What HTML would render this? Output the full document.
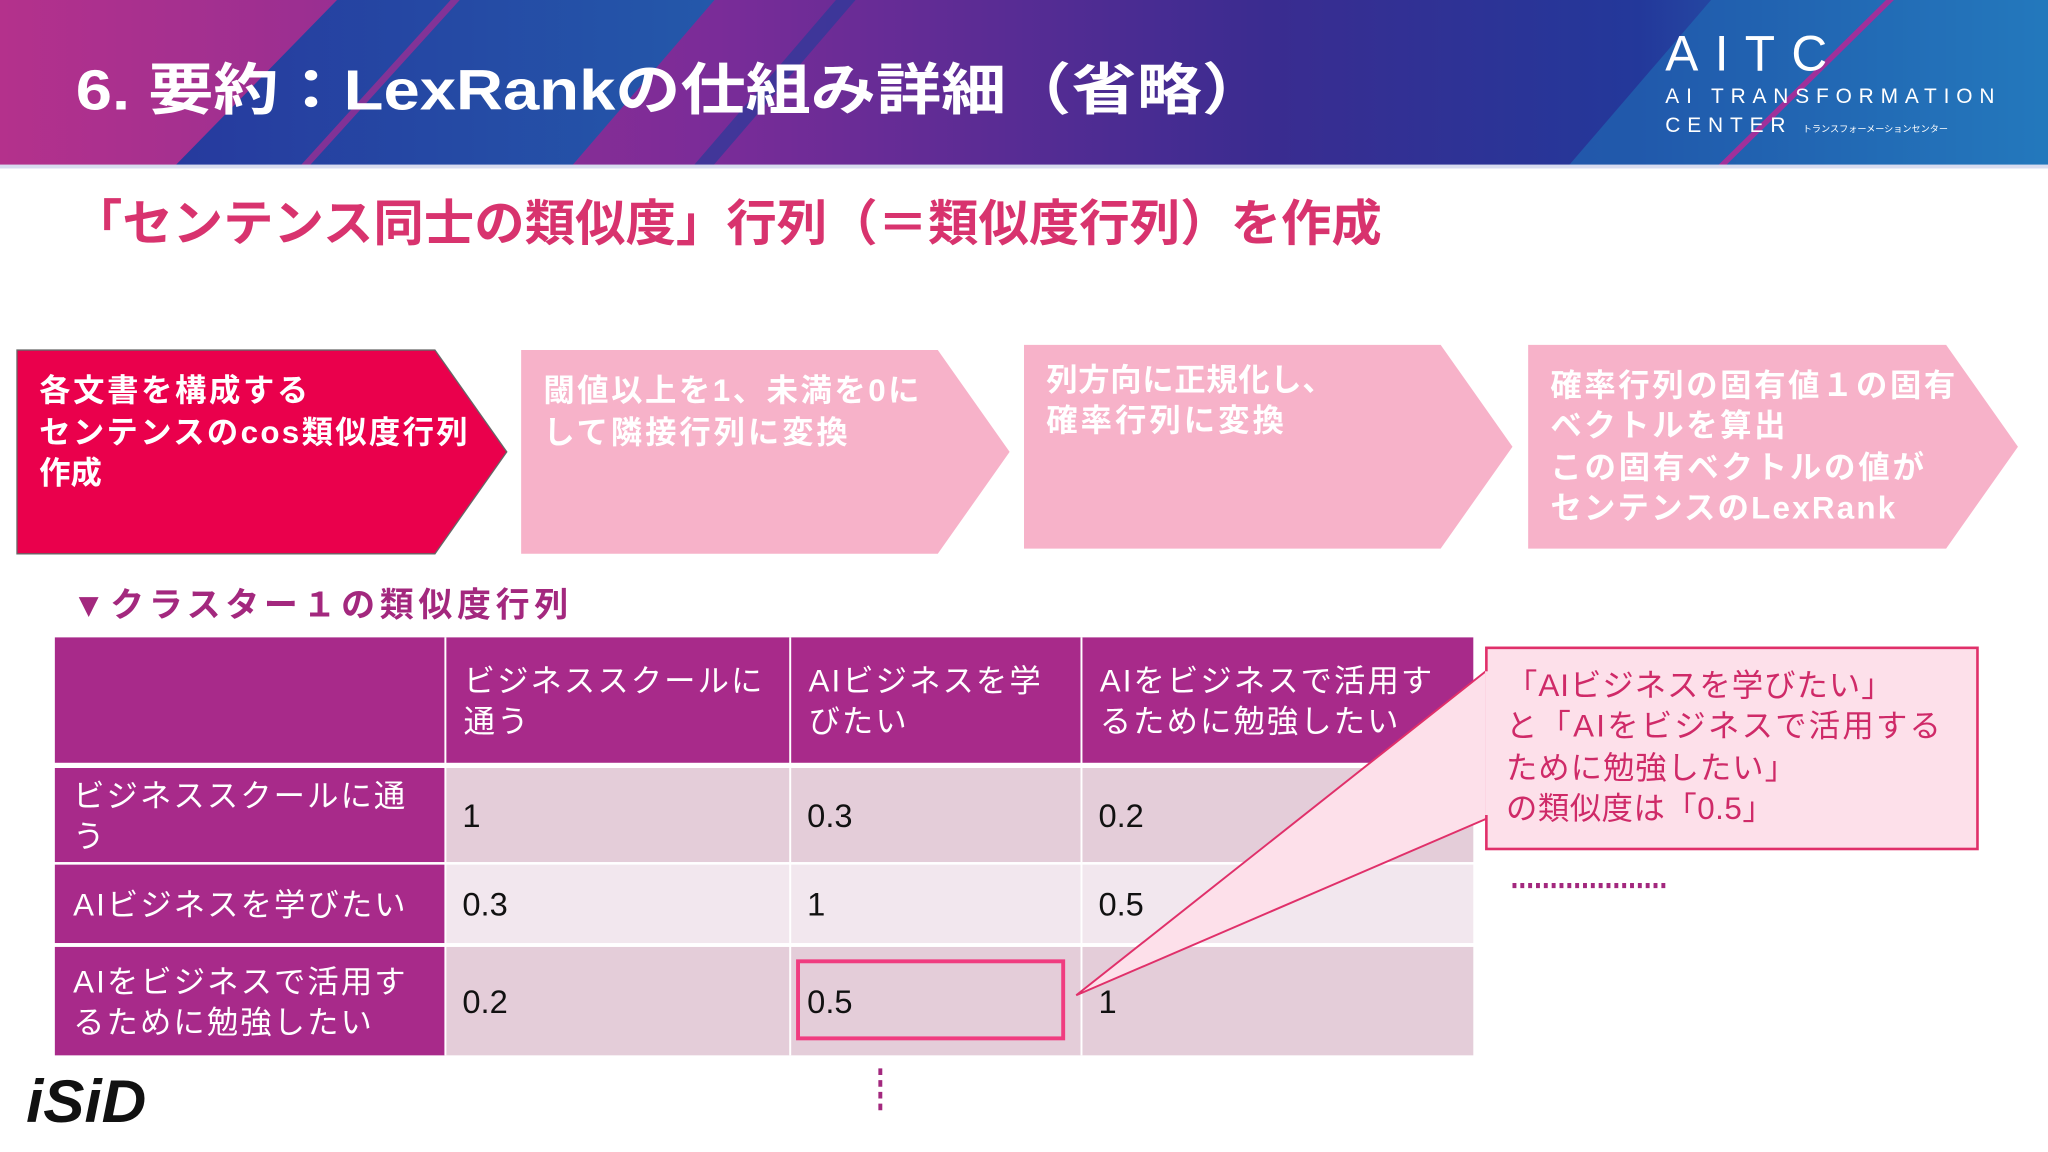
<!DOCTYPE html>
<html><head><meta charset="utf-8"><style>
html,body{margin:0;padding:0;background:#fff;}
#wrap{width:2048px;height:1152px;overflow:hidden;position:relative;}
svg{display:block;}
text{font-family:"Liberation Sans","Noto Sans CJK JP",sans-serif;}
</style></head><body>
<div id="wrap">
<svg id="s" width="2048" height="1152" viewBox="0 0 1568 882">
<defs>
<linearGradient id="hg" x1="0" y1="0" x2="1" y2="0">
<stop offset="0" stop-color="#b4318c"/><stop offset="0.35" stop-color="#7a2c98"/>
<stop offset="0.62" stop-color="#3a2c90"/><stop offset="0.8" stop-color="#23389a"/>
<stop offset="1" stop-color="#2a86c4"/></linearGradient>
<linearGradient id="bb" x1="0" y1="0" x2="1" y2="0">
<stop offset="0" stop-color="#263a9e"/><stop offset="1" stop-color="#2458aa"/></linearGradient>
</defs>
<g>
<rect x="0" y="0" width="1568" height="128" fill="url(#hg)"/>
<polygon points="258,0 547,0 437,128 133,128" fill="url(#bb)"/>
<polygon points="345,0 352,0 236,128 229,128" fill="#9a2e94" opacity="0.8"/>
<polygon points="640,0 655,0 545,128 530,128" fill="#2a3a9a" opacity="0.7"/>
<polygon points="1310,0 1568,0 1568,128 1200,128" fill="#2070b8" opacity="0.6"/>
<polygon points="1444,0 1450,0 1320,128 1314,128" fill="#a0309a"/>
<rect x="0" y="126" width="1568" height="3" fill="#d8dcf0"/>
</g>
<text x="58" y="84" font-size="43" font-weight="bold" fill="#fff" textLength="912" lengthAdjust="spacingAndGlyphs">6. 要約：LexRankの仕組み詳細（省略）</text>
<g fill="#fff">
<text x="1275" y="54" font-size="38" textLength="124" lengthAdjust="spacing" fill="#fff">AITC</text>
<text x="1275" y="79" font-size="16" textLength="252" lengthAdjust="spacing" fill="#fff">AI TRANSFORMATION</text>
<text x="1275" y="101" font-size="16" fill="#fff"><tspan textLength="92" lengthAdjust="spacing">CENTER</tspan><tspan font-size="7" dx="8">トランスフォーメーションセンター</tspan></text>
</g>
<text x="55" y="184" font-size="38" font-weight="bold" fill="#d8336e" textLength="1003" lengthAdjust="spacingAndGlyphs">「センテンス同士の類似度」行列（＝類似度行列）を作成</text>

<g>
<polygon points="13,268 333,268 388,346 333,424 13,424" fill="#ea004c" stroke="#666" stroke-width="1"/>
<text font-size="24" font-weight="bold" fill="#fff"><tspan x="30" y="307" textLength="206" lengthAdjust="spacing">各文書を構成する</tspan><tspan x="30" y="339" textLength="328" lengthAdjust="spacing">センテンスのcos類似度行列</tspan><tspan x="30" y="370">作成</tspan></text>
</g>
<g>
<polygon points="399,268 718,268 773,346 718,424 399,424" fill="#f7b2c9"/>
<text font-size="24" font-weight="bold" fill="#fff"><tspan x="416" y="307" textLength="288" lengthAdjust="spacing">閾値以上を1、未満を0に</tspan><tspan x="416" y="339" textLength="233" lengthAdjust="spacing">して隣接行列に変換</tspan></text>
</g>
<g>
<polygon points="784,264 1103,264 1158,342 1103,420 784,420" fill="#f7b2c9"/>
<text font-size="24" font-weight="bold" fill="#fff"><tspan x="801" y="299" textLength="220" lengthAdjust="spacing">列方向に正規化し、</tspan><tspan x="801" y="330" textLength="182" lengthAdjust="spacing">確率行列に変換</tspan></text>
</g>
<g>
<polygon points="1170,264 1490,264 1545,342 1490,420 1170,420" fill="#f7b2c9"/>
<text font-size="24" font-weight="bold" fill="#fff"><tspan x="1187" y="303" textLength="310" lengthAdjust="spacing">確率行列の固有値１の固有</tspan><tspan x="1187" y="334" textLength="180" lengthAdjust="spacing">ベクトルを算出</tspan><tspan x="1187" y="366" textLength="286" lengthAdjust="spacing">この固有ベクトルの値が</tspan><tspan x="1187" y="397" textLength="264" lengthAdjust="spacing">センテンスのLexRank</tspan></text>
</g>

<text x="55" y="472" font-size="26" font-weight="bold" fill="#a3287e" textLength="380" lengthAdjust="spacing">▼クラスター１の類似度行列</text>

<g id="tbl"></g>

<g>
<polygon points="1140,512 824,762 1140,626" fill="#fde0ea" stroke="#e0306a" stroke-width="1.5"/>
<rect x="1138" y="496" width="376" height="154" fill="#fde0ea" stroke="#e0306a" stroke-width="2"/>
<rect x="1137" y="514" width="6" height="110" fill="#fde0ea"/>
<text font-size="24" fill="#cf2a68"><tspan x="1153" y="533" textLength="296" lengthAdjust="spacing">「AIビジネスを学びたい」</tspan><tspan x="1153" y="564" textLength="333" lengthAdjust="spacing">と「AIをビジネスで活用する</tspan><tspan x="1153" y="596" textLength="222" lengthAdjust="spacing">ために勉強したい」</tspan><tspan x="1153" y="627" textLength="205" lengthAdjust="spacing">の類似度は「0.5」</tspan></text>
</g>
<line x1="1158" y1="678" x2="1278" y2="678" stroke="#a3287e" stroke-width="4" stroke-dasharray="3,3"/>
<line x1="674" y1="818" x2="674" y2="852" stroke="#a3287e" stroke-width="3" stroke-dasharray="5,4"/>
<text x="20" y="859" font-size="46" font-weight="bold" font-style="italic" fill="#111" textLength="92" lengthAdjust="spacingAndGlyphs">iSiD</text>
</svg>
</div>
<script>
const colLabels=["ビジネススクールに|通う","AIビジネスを学|びたい","AIをビジネスで活用す|るために勉強したい"];
const rowLabels=["ビジネススクールに通|う","AIビジネスを学びたい","AIをビジネスで活用す|るために勉強したい"];
const values=[["1","0.3","0.2"],["0.3","1","0.5"],["0.2","0.5","1"]];
const colX=[42,341,605,828,1128];
const rowY=[[488,584],[588,660],[662,722],[725,808]];
const rowBg=["#e4cdd9","#f2e7ee","#e4cdd9"];
const NS="http://www.w3.org/2000/svg";
const g=document.getElementById('tbl');
function mk(tag,attrs){const e=document.createElementNS(NS,tag);for(const k in attrs)e.setAttribute(k,attrs[k]);g.appendChild(e);return e;}
function multiText(x,yc,str,fill,name){
  const lines=str.split('|');const lh=31;const y0=yc-(lines.length-1)*lh/2+9;
  const t=mk('text',{'font-size':24,fill:fill,'letter-spacing':1.6});
  
  
  lines.forEach((l,i)=>{const s=document.createElementNS(NS,'tspan');s.setAttribute('x',x);s.setAttribute('y',y0+i*lh);s.textContent=l;t.appendChild(s);});
}
const hdr=mk('rect',{x:42,y:488,width:1086,height:96,fill:"#a82a8a"});


colLabels.forEach((c,i)=>{multiText(colX[i+1]+14,536,c,"#fff",'column-header');});
values.forEach((row,r)=>{
  const [y1,y2]=rowY[r+1];
  const rh=mk('rect',{x:42,y:y1,width:299,height:y2-y1,fill:"#a82a8a"});
  
  
  const bg=mk('rect',{x:341,y:y1,width:787,height:y2-y1,fill:rowBg[r]});
  
  
  multiText(56,(y1+y2)/2,rowLabels[r],"#fff",'row-header');
  row.forEach((v,c)=>{
    const t=mk('text',{x:colX[c+1]+13,y:(y1+y2)/2+9,'font-size':25,fill:"#111"});
    t.textContent=v;
    
    
  });
});
[341,605,828].forEach(x=>{const l=mk('line',{x1:x,y1:488,x2:x,y2:808,stroke:"#fff","stroke-width":1.5});
  
  });
const hl=mk('rect',{x:611,y:736,width:203,height:59,fill:"none",stroke:"#f03c80","stroke-width":3});


</script>
</body></html>
